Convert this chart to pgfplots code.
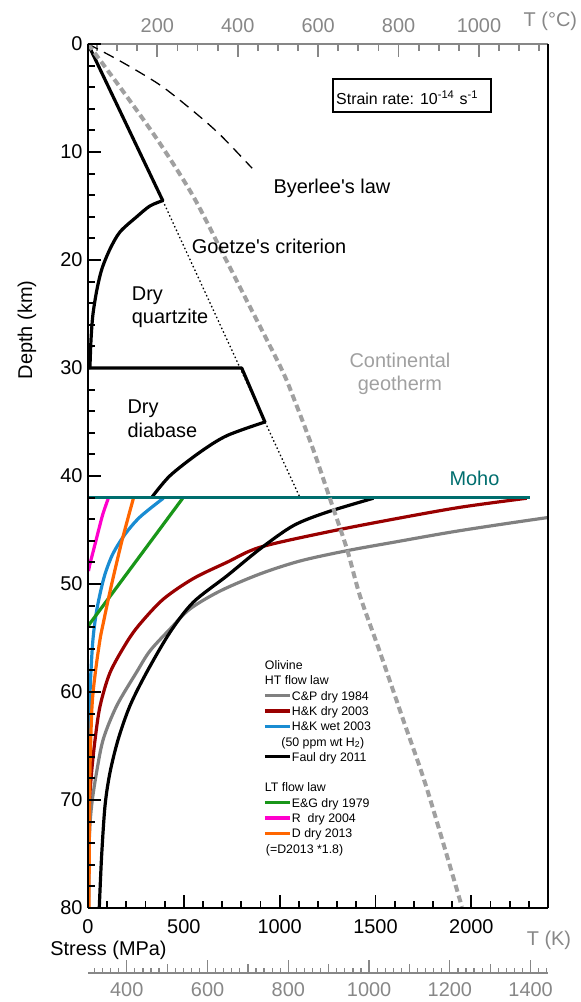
\documentclass[border=0pt]{standalone}
\usepackage{pgfplots}
\pgfplotsset{compat=1.18}
\usepackage{fontspec}
\setmainfont{Liberation Sans}
\definecolor{cpgray}{RGB}{128,128,128}
\definecolor{hkdry}{RGB}{153,0,0}
\definecolor{hkwet}{RGB}{25,140,210}
\definecolor{egreen}{RGB}{25,150,25}
\definecolor{rmag}{RGB}{255,0,204}
\definecolor{dorange}{RGB}{255,102,0}
\definecolor{moho}{RGB}{0,110,110}
\definecolor{geo}{RGB}{160,160,160}
\definecolor{taxis}{RGB}{135,135,135}
\newcommand{\lab}{\fontsize{20}{23}\selectfont}
\begin{document}
\begin{tikzpicture}[x=1bp,y=1bp]
\path[use as bounding box] (-88bp,-94bp) rectangle (493bp,908bp);

% top axis: T (C)
\begin{axis}[at={(0bp,0bp)}, anchor=south west, scale only axis, width=460bp, height=864bp,
  xmin=27.6, xmax=1171.7, ymin=0, ymax=1, hide y axis, axis x line*=top,
  x axis line style={-, draw=taxis, line width=1.8bp},
  xtick={200,400,600,800,1000}, xticklabels={200,400,600,800,1000},
  minor x tick num=3,
  extra x ticks={50,100,150,1050,1100,1150}, extra x tick labels={},
  extra x tick style={major tick length=7bp},
  tick align=inside, major tick length=13bp, minor tick length=7bp,
  major tick style={draw=taxis, line width=1.8bp},
  minor tick style={draw=taxis, line width=1.8bp},
  xticklabel style={font=\lab, text=taxis, yshift=8bp},
]
\end{axis}

% bottom axis: T (K), long ticks and labels
\begin{axis}[at={(0bp,-65bp)}, anchor=south west, scale only axis, width=460bp, height=20bp,
  xmin=304, xmax=1443, ymin=0, ymax=1, hide y axis, axis x line*=bottom,
  x axis line style={-, draw=taxis, line width=1.3bp},
  xtick={400,600,800,1000,1200,1400}, xticklabels={400,600,800,1000,1200,1400},
  minor x tick num=9,
  extra x ticks={320,340,360,380,1420,1440}, extra x tick labels={},
  extra x tick style={major tick length=5bp},
  tick align=inside, major tick length=13bp, minor tick length=5bp,
  major tick style={draw=taxis, line width=1.2bp},
  minor tick style={draw=taxis, line width=1.2bp},
  xticklabel style={font=\lab, text=taxis, yshift=-6bp},
]
\end{axis}
% bottom axis: T (K), medium ticks
\begin{axis}[at={(0bp,-65bp)}, anchor=south west, scale only axis, width=460bp, height=20bp,
  xmin=304, xmax=1443, ymin=0, ymax=1, hide y axis, axis x line*=bottom,
  x axis line style={-, draw=taxis, line width=1.3bp},
  xtick={500,700,900,1100,1300}, xticklabels={},
  minor x tick num=0,
  tick align=inside, major tick length=9bp,
  major tick style={draw=taxis, line width=1.2bp},
]
\end{axis}

% main axis
\begin{axis}[name=main, at={(0bp,0bp)}, anchor=south west, scale only axis, width=460bp, height=864bp,
  xmin=0, xmax=2400, ymin=-80, ymax=0,
  y filter/.expression={-y},
  axis x line*=bottom, axis y line*=left,
  x axis line style={-, line width=2bp},
  y axis line style={-, line width=2bp},
  axis on top,
  xtick={0,500,1000,1500,2000}, xticklabels={0,500,1000,1500,2000},
  minor x tick num=4,
  extra x ticks={2100,2200,2300}, extra x tick labels={},
  extra x tick style={major tick length=7bp},
  ytick={-80,-70,-60,-50,-40,-30,-20,-10,0}, yticklabels={80,70,60,50,40,30,20,10,0},
  minor y tick num=4,
  tick align=inside, major tick length=13bp, minor tick length=7bp,
  major tick style={draw=black, line width=1.9bp},
  minor tick style={draw=black, line width=1.9bp},
  xticklabel style={font=\lab, yshift=-8bp},
  yticklabel style={font=\lab, xshift=-2bp},
  legend style={at={(0.381,0.290)}, anchor=north west, draw=none, fill=none,
    inner sep=0pt, outer sep=0pt, row sep=0pt, column sep=0pt,
    font=\fontsize{12.4}{14}\selectfont,
    nodes={inner ysep=0pt, inner xsep=0.5bp, text height=12.1bp, text depth=3.2bp}},
  legend cell align=left,
  legend image code/.code={\draw[#1] (0bp,0bp) -- (25bp,0bp);},
]
% Byerlee's law
\addplot[forget plot, black, line width=1.3bp, dash pattern=on 11bp off 7bp, smooth]
  coordinates {(0,0) (167,1.57) (376,3.8) (548,6.2) (689,8.4) (856,11.5)};
% Goetze's criterion
\addplot[forget plot, black, line width=1.3bp, dash pattern=on 1.5bp off 2.5bp]
  coordinates {(390,14.5) (1106,42)};
% strength envelope
\addplot[forget plot, black, line width=3.2bp, line cap=round]
  coordinates {(0,0) (390,14.5)};
\addplot[forget plot, black, line width=3.2bp, smooth, line cap=round]
  coordinates {(390,14.5) (323,15.0) (254,16.0) (167,17.4) (115,18.98) (73,20.8) (47,22.7) (26,25.0) (16,27.3) (10,30)};
\addplot[forget plot, black, line width=3.2bp, line join=round, line cap=round]
  coordinates {(0,30) (802,30) (923,35)};
\addplot[forget plot, black, line width=3.2bp, smooth, line cap=round]
  coordinates {(923,35) (724,36.27) (584,37.8) (428,39.97) (332,42.0)};
% C&P dry 1984
\addplot[forget plot, cpgray, line width=3.2bp, smooth]
  coordinates {(2700,43.2) (2410,43.82) (1941,45.06) (1593,46.14) (1350,46.92) (1106,47.87) (897,49.07) (689,50.65) (532,52.31) (428,54.17) (323,56.2) (254,58.15) (150,61.27) (80,64.35) (45,67.41) (19,70.5) (7,73.6) (3,80)};
% H&K dry 2003
\addplot[forget plot, hkdry, line width=3.2bp, smooth]
  coordinates {(2289,42.06) (1941,42.9) (1593,44.0) (1245,45.2) (897,46.6) (724,48.0) (549,49.5) (393,51.4) (271,53.7) (202,55.4) (115,58.2) (63,61.3) (37,64.4) (19,67.4) (7,70.5) (3,75.5) (1,80)};
% H&K wet 2003
\addplot[forget plot, hkwet, line width=3.2bp, smooth]
  coordinates {(393,42.06) (271,43.8) (193,45.4) (130,47.2) (89,49.07) (63,50.9) (42,52.8) (26,55.1) (16,57.9) (10,60.6) (5,68) (2.5,80)};
% Faul dry 2011
\addplot[forget plot, black, line width=3.2bp, smooth]
  coordinates {(1489,42.06) (1245,43.36) (1071,44.6) (897,46.76) (724,49.26) (549,51.69) (428,54.47) (306,58.18) (219,61.27) (158,64.35) (115,67.43) (89,70.5) (71,75.2) (59,79.9)};
% E&G dry 1979
\addplot[forget plot, egreen, line width=3.2bp]
  coordinates {(494,42.06) (0,53.9)};
% R dry 2004
\addplot[forget plot, rmag, line width=3.2bp, smooth]
  coordinates {(106,42.06) (78,43.5) (57,44.9) (37,46.3) (21,47.4) (10,48.15) (2.6,48.8)};
% D dry 2013
\addplot[forget plot, dorange, line width=3.2bp, smooth]
  coordinates {(237,42.06) (180,45.8) (138,48.9) (106,51.4) (80,53.6) (63,55.1) (39,58.1) (21,61.3) (10,67.4) (7,74) (5,80)};
% Moho
\addplot[forget plot, moho, line width=3.2bp]
  coordinates {(0,42) (2306,42)};
% continental geotherm
\addplot[forget plot, geo, line width=4bp, dash pattern=on 7bp off 4bp, smooth]
  coordinates {(0,0) (193,4.63) (370,9.07) (548,14.07) (710,19.63) (824,23.61) (1007,30.0) (1075,32.87) (1174,37.5) (1263,42.13) (1351,46.76) (1419,51.1) (1523,56.3) (1643,62.5) (1769,69.0) (1951,79.9)};

% legend
\addlegendimage{empty legend}\addlegendentry{\hspace*{-27bp}Olivine}
\addlegendimage{empty legend}\addlegendentry{\hspace*{-27bp}HT flow law}
\addlegendimage{cpgray, line width=3.2bp}\addlegendentry{C\&P dry 1984}
\addlegendimage{hkdry, line width=3.2bp}\addlegendentry{H\&K dry 2003}
\addlegendimage{hkwet, line width=3.2bp}\addlegendentry{H\&K wet 2003}
\addlegendimage{empty legend}\addlegendentry{\hspace*{-10.5bp}(50 ppm wt H\textsubscript{2})}
\addlegendimage{black, line width=3.2bp}\addlegendentry{Faul dry 2011}
\addlegendimage{empty legend}\addlegendentry{\mbox{}}
\addlegendimage{empty legend}\addlegendentry{\hspace*{-27bp}LT flow law}
\addlegendimage{egreen, line width=3.2bp}\addlegendentry{E\&G dry 1979}
\addlegendimage{rmag, line width=3.2bp}\addlegendentry{R\ \ dry 2004}
\addlegendimage{dorange, line width=3.2bp}\addlegendentry{D dry 2013}
\addlegendimage{empty legend}\addlegendentry{\hspace*{-26bp}(=D2013 *1.8)}
\end{axis}
\draw[line width=2bp] (460bp,0bp) -- (460bp,864bp);

% labels
\node[font=\lab, text=taxis] at (462.4bp,886.3bp) {T (°C)};
\node[font=\lab, text=taxis] at (461bp,-32bp) {T (K)};
\node[font=\lab] at (20.5bp,-42bp) {Stress (MPa)};
\node[font=\lab, rotate=90] at (-61bp,578bp) {Depth (km)};
\node[font=\lab, anchor=base west, inner sep=0pt] at (185.3bp,714.7bp) {Byerlee\textquotesingle s law};
\node[font=\lab, anchor=base west, inner sep=0pt] at (103.7bp,654.5bp) {Goetze\textquotesingle s criterion};
\node[font=\lab, anchor=base west, inner sep=0pt] at (43.7bp,607bp) {Dry};
\node[font=\lab, anchor=base west, inner sep=0pt] at (43.7bp,584bp) {quartzite};
\node[font=\lab, anchor=base west, inner sep=0pt] at (39.3bp,494.7bp) {Dry};
\node[font=\lab, anchor=base west, inner sep=0pt] at (39.3bp,470.3bp) {diabase};
\node[font=\lab, text=geo, anchor=base, inner sep=0pt] at (312bp,540bp) {Continental};
\node[font=\lab, text=geo, anchor=base, inner sep=0pt] at (312bp,517bp) {geotherm};
\node[font=\lab, text=moho, anchor=base west, inner sep=0pt] at (361.3bp,422bp) {Moho};
\draw[line width=1.5bp] (245bp,796bp) rectangle (403bp,829bp);
\node[font=\fontsize{16}{19}\selectfont, anchor=base west, inner sep=0pt] at (248bp,803bp) {Strain rate: 10\textsuperscript{-14}\,\,s\textsuperscript{-1}};
\end{tikzpicture}
\end{document}
